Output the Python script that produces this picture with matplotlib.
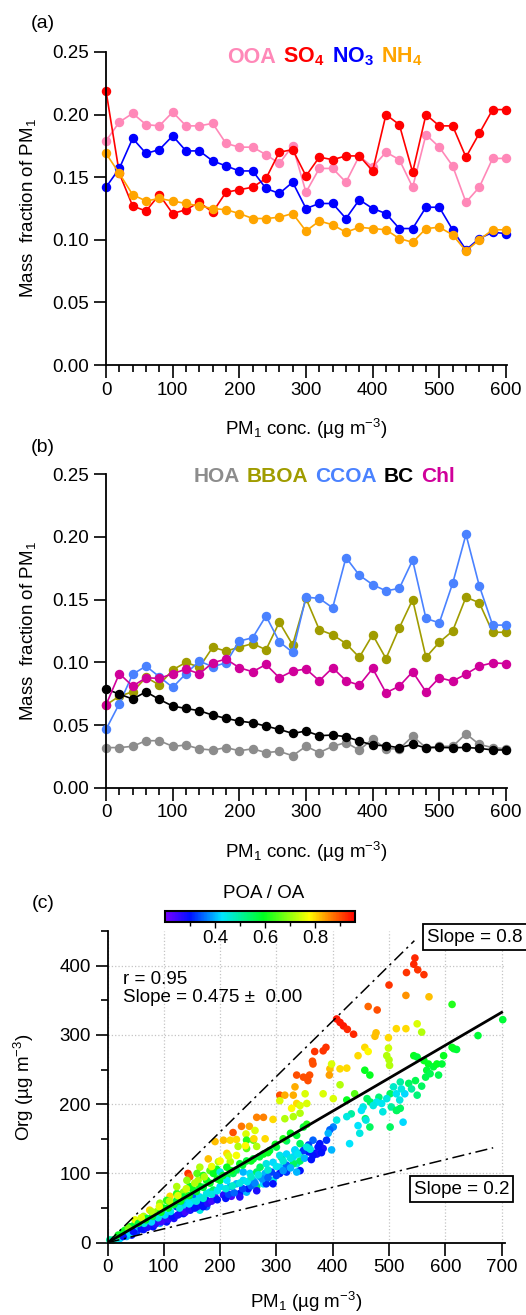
import numpy as np
import matplotlib.pyplot as plt
from matplotlib.offsetbox import TextArea, HPacker, AnchoredOffsetbox
from matplotlib.ticker import MultipleLocator
from matplotlib.colors import LinearSegmentedColormap

plt.rcParams['font.family'] = ['Liberation Sans', 'DejaVu Sans']
plt.rcParams['mathtext.fontset'] = 'custom'
plt.rcParams['mathtext.rm'] = 'Liberation Sans'
plt.rcParams['mathtext.it'] = 'Liberation Sans:italic'
plt.rcParams['mathtext.bf'] = 'Liberation Sans:bold'

# PM1 concentration bins (ug m-3)
conc = [0, 20, 40, 60, 80, 100, 120, 140, 160, 180, 200, 220, 240, 260, 280, 300,
        320, 340, 360, 380, 400, 420, 440, 460, 480, 500, 520, 540, 560, 580, 600]

# (a) secondary species mass fractions
ooa = [0.179, 0.194, 0.201, 0.192, 0.191, 0.202, 0.191, 0.191, 0.193, 0.177, 0.174,
       0.174, 0.168, 0.161, 0.175, 0.138, 0.157, 0.157, 0.146, 0.167, 0.158, 0.170,
       0.164, 0.142, 0.184, 0.174, 0.159, 0.130, 0.142, 0.165, 0.165]
so4 = [0.219, 0.153, 0.127, 0.123, 0.136, 0.121, 0.124, 0.130, 0.122, 0.138, 0.140,
       0.142, 0.149, 0.170, 0.172, 0.151, 0.166, 0.164, 0.167, 0.167, 0.155, 0.200,
       0.192, 0.154, 0.200, 0.191, 0.191, 0.166, 0.185, 0.204, 0.204]
no3 = [0.142, 0.157, 0.181, 0.169, 0.172, 0.183, 0.171, 0.171, 0.163, 0.159, 0.155,
       0.155, 0.141, 0.137, 0.146, 0.125, 0.129, 0.129, 0.117, 0.132, 0.125, 0.121,
       0.109, 0.109, 0.126, 0.126, 0.108, 0.092, 0.101, 0.106, 0.105]
nh4 = [0.169, 0.153, 0.136, 0.131, 0.133, 0.131, 0.129, 0.127, 0.125, 0.124, 0.121,
       0.117, 0.117, 0.118, 0.121, 0.107, 0.115, 0.112, 0.106, 0.110, 0.109, 0.108,
       0.101, 0.098, 0.109, 0.110, 0.104, 0.091, 0.100, 0.108, 0.108]

# (b) primary species mass fractions
hoa = [0.032, 0.032, 0.033, 0.0375, 0.0375, 0.033, 0.034, 0.031, 0.030, 0.032, 0.0295,
       0.031, 0.028, 0.029, 0.0255, 0.033, 0.028, 0.033, 0.036, 0.030, 0.039, 0.031,
       0.031, 0.041, 0.032, 0.033, 0.033, 0.043, 0.0345, 0.032, 0.031]
bboa = [0.066, 0.073, 0.0765, 0.088, 0.082, 0.094, 0.100, 0.096, 0.112, 0.109, 0.112,
        0.115, 0.110, 0.132, 0.114, 0.151, 0.126, 0.122, 0.115, 0.104, 0.122, 0.103,
        0.1275, 0.150, 0.104, 0.116, 0.125, 0.152, 0.1475, 0.124, 0.124]
ccoa = [0.0465, 0.067, 0.0905, 0.097, 0.0885, 0.080, 0.091, 0.101, 0.0965, 0.0996, 0.117,
        0.1196, 0.137, 0.1164, 0.108, 0.152, 0.151, 0.1435, 0.1836, 0.1695, 0.162, 0.157,
        0.159, 0.1815, 0.135, 0.1315, 0.163, 0.202, 0.161, 0.1297, 0.1297]
bc = [0.0787, 0.0747, 0.0707, 0.0765, 0.0704, 0.0651, 0.0632, 0.0614, 0.0579, 0.0553,
      0.0531, 0.0518, 0.0491, 0.0465, 0.0433, 0.0452, 0.0415, 0.042, 0.0407, 0.0372,
      0.034, 0.0335, 0.0319, 0.0345, 0.0319, 0.0321, 0.0319, 0.0321, 0.0314, 0.0301, 0.0301]
chl = [0.066, 0.091, 0.081, 0.0877, 0.0872, 0.0909, 0.0946, 0.0909, 0.0996, 0.1026,
       0.0957, 0.0925, 0.0983, 0.0877, 0.093, 0.0947, 0.0853, 0.0957, 0.0853, 0.0818,
       0.0951, 0.0757, 0.081, 0.0925, 0.0765, 0.0877, 0.085, 0.0906, 0.097, 0.0996, 0.099]

# (c) PM1 vs Org scatter, coloured by POA/OA
pm1 = [546, 544, 551, 531, 562, 500, 530, 571, 612, 463, 479, 407, 413, 419, 426, 437,
       513, 530, 550, 558, 477, 475, 457, 463, 445, 499, 499, 496, 500, 501, 388, 383,
       368, 364, 365, 395, 398, 394, 413, 425, 457, 466, 359, 348, 336, 356, 333, 330,
       383, 401, 413, 351, 354, 336, 342, 327, 439, 425, 544, 550, 562, 570, 579, 585,
       594, 597, 615, 620, 612, 567, 573, 588, 565, 547, 535, 520, 508, 502, 482, 467,
       461, 658, 702, 528, 522, 513, 496, 487, 478, 472, 454, 451, 433, 550, 520, 514,
       466, 458, 448, 430, 425, 407, 401, 395, 392, 389, 377, 383, 374, 368, 365, 357,
       351, 342, 333, 330, 336, 398, 445, 459, 489, 504, 519, 513, 540, 558, 502, 525,
       372, 357, 365,
       143, 146, 111, 75, 179, 191, 206, 223, 238, 252, 265, 277, 306, 315, 306, 342,
       330, 315, 294, 280, 262, 246, 229, 218, 232, 247, 259, 212, 197, 218, 229, 247,
       265, 164, 182, 161, 146, 135, 123, 105, 93, 64, 52, 40, 28,
       194, 212, 235, 247, 259, 277, 288, 300, 318, 336, 348, 354, 309, 330, 342,
       140, 152, 164, 176, 191, 206, 220, 235, 247, 182, 200, 218, 229, 241, 259, 265,
       271, 280, 291, 306, 318, 342, 294, 277, 135, 123, 129, 111, 105, 93, 81, 75,
       64, 52, 43, 34, 22, 10, 152, 164, 176,
       47, 59, 70, 82, 88, 100, 111, 123, 88, 100, 118, 135, 147, 159, 170, 141, 152,
       164, 176, 188, 200, 212, 223, 229, 164, 176, 152, 135, 123, 141, 159, 170, 188,
       200, 212, 241, 253, 265, 271, 282, 294, 306, 318, 333, 348, 342, 354, 235, 250,
       265, 282, 294, 306, 318, 336, 4, 16, 19, 28, 31, 37, 40, 46, 55, 64, 72, 60, 49,
       # dense band below 300 ug m-3
       60, 70, 85, 95, 108, 115, 125, 138, 145, 155, 168, 178, 185, 195, 210, 215, 225,
       240, 255, 262, 275, 285, 300, 312, 325, 350, 362, 380,
       65, 78, 90, 102, 112, 128, 145, 158, 170, 185, 195, 210, 222, 235, 248, 255, 268,
       285, 300, 312, 325, 338, 360,
       55, 68, 80, 95, 108, 118, 130, 145, 158, 170, 182, 195, 205, 220, 240, 255, 270,
       285, 298, 312, 325,
       60, 78, 92, 110, 125, 140, 155, 172, 185, 200, 215, 245, 260]
org = [411, 402, 394, 390, 387, 372, 357, 355, 344, 341, 336, 323, 318, 313, 308, 301,
       309, 309, 316, 304, 303, 298, 282, 276, 270, 296, 281, 270, 264, 256, 282, 277,
       276, 262, 258, 251, 258, 242, 251, 252, 249, 242, 242, 239, 242, 234, 225, 213,
       215, 208, 228, 215, 201, 201, 187, 194, 215, 206, 270, 268, 263, 258, 254, 258,
       258, 270, 280, 279, 282, 249, 244, 242, 239, 234, 230, 232, 225, 215, 210, 203,
       208, 299, 322, 215, 222, 215, 208, 201, 203, 198, 196, 191, 186, 213, 194, 191,
       167, 179, 158, 143, 182, 177, 167, 163, 158, 148, 143, 136, 138, 129, 148, 141,
       136, 129, 134, 124, 114, 134, 169, 177, 189, 196, 206, 191, 222, 226, 167, 174,
       128, 131, 126,
       100, 95, 67, 47, 121, 146, 148, 159, 168, 168, 181, 181, 213, 213, 205, 198,
       182, 179, 178, 150, 162, 157, 149, 148, 139, 148, 148, 129, 117, 117, 126, 136,
       139, 109, 104, 90, 81, 73, 71, 61, 57, 38, 30, 23, 16,
       106, 109, 114, 118, 121, 128, 133, 138, 147, 155, 167, 171, 123, 114, 118,
       61, 66, 57, 61, 66, 69, 67, 71, 73, 73, 81, 81, 85, 90, 90, 81,
       95, 100, 102, 109, 112, 104, 90, 85, 54, 52, 42, 38, 30, 28, 23, 33,
       19, 16, 11, 9, 6, 4, 52, 47, 52,
       25, 30, 35, 40, 45, 50, 57, 61, 30, 33, 35, 42, 47, 52, 52, 52, 59,
       66, 71, 76, 90, 95, 100, 105, 81, 90, 76, 66, 81, 90, 100, 97, 100,
       102, 90, 102, 100, 102, 109, 114, 116, 126, 128, 133, 133, 143, 138, 66, 78,
       75, 85, 85, 100, 102, 102, 4, 6, 11, 9, 18, 21, 13, 16, 23, 26, 23, 30, 33,
       20, 22, 27, 30, 34, 38, 40, 44, 48, 50, 55, 57, 60, 62, 64, 70, 72,
       78, 82, 86, 92, 94, 97, 104, 108, 122, 120, 130,
       28, 30, 36, 40, 45, 50, 56, 60, 64, 70, 75, 78, 82, 86, 88, 95, 98,
       105, 110, 118, 122, 128, 135,
       28, 33, 38, 44, 50, 55, 60, 68, 74, 80, 86, 92, 97, 104, 112, 118, 124,
       130, 142, 150, 158,
       36, 45, 52, 60, 68, 78, 86, 95, 110, 118, 125, 140, 150]
poa_oa = [.93, .93, .92, .92, .92, .92, .85, .82, .62, .88, .90, .94, .94, .94, .93, .93,
          .80, .80, .75, .72, .82, .82, .80, .78, .80, .80, .74, .72, .72, .72, .92, .92,
          .92, .90, .90, .82, .75, .84, .80, .80, .60, .60, .90, .90, .90, .90, .83, .83,
          .75, .75, .72, .75, .75, .80, .72, .78, .66, .60, .60, .58, .60, .60, .58, .60,
          .58, .60, .58, .58, .60, .58, .56, .56, .56, .56, .55, .50, .47, .55, .53, .55,
          .55, .58, .58, .42, .45, .44, .45, .44, .44, .45, .45, .43, .50, .53, .55, .55,
          .55, .55, .45, .43, .45, .45, .37, .35, .40, .32, .30, .28, .30, .30, .35, .33,
          .40, .50, .42, .42, .45, .40, .43, .45, .45, .50, .45, .55, .50, .55, .55, .42,
          .28, .30, .30,
          .92, .88, .80, .80, .82, .82, .82, .90, .87, .83, .86, .86, .90, .83, .75, .75,
          .72, .72, .80, .80, .75, .75, .80, .80, .72, .62, .66, .80, .72, .72, .77, .66,
          .72, .72, .66, .72, .60, .70, .62, .62, .70, .72, .62, .60, .60,
          .60, .60, .60, .58, .58, .60, .58, .56, .55, .58, .58, .62, .55, .55, .55,
          .45, .35, .30, .30, .25, .27, .24, .30, .40, .42, .42, .40, .40, .42, .40, .55,
          .40, .40, .33, .42, .35, .30, .45, .43, .40, .30, .28, .30, .30, .40, .30, .45,
          .30, .32, .30, .40, .42, .55, .42, .45, .35,
          .58, .45, .56, .60, .70, .60, .58, .58, .30, .27, .28, .30, .30, .28, .30, .42, .45,
          .42, .45, .55, .58, .56, .55, .55, .60, .60, .60, .58, .72, .70, .66, .62, .60,
          .45, .43, .40, .42, .55, .55, .45, .42, .45, .42, .42, .32, .55, .45, .27, .30,
          .28, .32, .30, .30, .32, .40, .50, .45, .60, .30, .60, .68, .42, .30, .40, .42, .30, .58, .76,
          .30, .28, .27, .25, .26, .30, .28, .25, .27, .30, .30, .27, .25, .30, .30, .33, .35,
          .33, .35, .37, .38, .35, .33, .38, .40, .40, .30, .30,
          .45, .42, .45, .42, .44, .45, .43, .45, .46, .45, .44, .45, .47, .45, .44, .47, .45,
          .46, .44, .46, .45, .44, .45,
          .58, .60, .58, .60, .60, .58, .60, .60, .58, .58, .60, .60, .58, .60, .58, .60, .58,
          .60, .60, .62, .60,
          .75, .72, .76, .72, .75, .74, .72, .72, .76, .78, .75, .78, .80]

fit_slope = 0.475

# Igor-like reversed rainbow: violet -> blue -> cyan -> green -> yellow -> red
igor_rainbow = LinearSegmentedColormap.from_list(
    'igor_rainbow',
    [(0.0, '#7A00FF'), (0.13, '#0010FF'), (0.3, '#00E5FF'), (0.52, '#00FF20'),
     (0.76, '#FFFF00'), (0.86, '#FF8C00'), (1.0, '#FF0000')])

W, H = 526, 1315
FS = 13.5
fig = plt.figure(figsize=(W / 100, H / 100), dpi=100)


def style_axis(ax):
    for s in ['top', 'right']:
        ax.spines[s].set_visible(False)
    for s in ['left', 'bottom']:
        ax.spines[s].set_linewidth(1.3)
    ax.tick_params(which='major', direction='out', length=9, width=1.2,
                   labelsize=FS, pad=3)
    ax.tick_params(which='minor', direction='out', length=5, width=1.2)


def frac_panel(ax, series, colors):
    for vals, col in zip(series, colors):
        ax.plot(conc, vals, '-o', color=col, lw=1.2, ms=5.8, mec=col, clip_on=False)
    ax.set_xlim(0, 602)
    ax.set_ylim(0, 0.25)
    ax.xaxis.set_major_locator(MultipleLocator(100))
    ax.xaxis.set_minor_locator(MultipleLocator(20))
    ax.yaxis.set_major_locator(MultipleLocator(0.05))
    ax.yaxis.set_major_formatter(plt.FormatStrFormatter('%.2f'))
    style_axis(ax)
    ax.set_ylabel('Mass  fraction of PM$_1$', fontsize=FS)
    ax.yaxis.set_label_coords(-0.17, 0.5)
    ax.set_xlabel('PM$_1$ conc. (\u00b5g m$^{-3}$)', fontsize=FS)
    ax.xaxis.set_label_coords(0.5, -0.165)


def color_legend(words, colors, xy, size):
    boxes = [TextArea(w, textprops=dict(color=c, fontweight='bold', fontsize=size))
             for w, c in zip(words, colors)]
    pack = HPacker(children=boxes, align='baseline', pad=0, sep=5)
    ab = AnchoredOffsetbox(loc='center', child=pack, pad=0, borderpad=0, frameon=False,
                           bbox_to_anchor=(xy[0] / W, 1 - xy[1] / H),
                           bbox_transform=fig.transFigure)
    fig.add_artist(ab)


# panel a
ax_a = fig.add_axes([106 / W, 1 - 365 / H, 401.3 / W, 313 / H])
cols_a = ['#FF88B8', '#FF0000', '#0000FF', '#FFA500']
frac_panel(ax_a, [ooa, so4, no3, nh4], cols_a)
color_legend(['OOA', 'SO$_\\mathbf{4}$', 'NO$_\\mathbf{3}$', 'NH$_\\mathbf{4}$'], cols_a,
             (325, 57), 15.5)

# panel b
ax_b = fig.add_axes([106 / W, 1 - 787.7 / H, 401.3 / W, 313.4 / H])
cols_b = ['#8C8C8C', '#A09C00', '#4A82FF', '#000000', '#D0009A']
frac_panel(ax_b, [hoa, bboa, ccoa, bc, chl], cols_b)
color_legend(['HOA', 'BBOA', 'CCOA', 'BC', 'Chl'], cols_b, (324, 476), 15)

# panel c
ax_c = fig.add_axes([107.5 / W, 1 - 1242.7 / H, 397.5 / W, 311.7 / H])
sc = ax_c.scatter(pm1, org, c=poa_oa, cmap=igor_rainbow, vmin=0.2, vmax=0.96,
                  s=30, edgecolors='none', clip_on=False, zorder=2)
ax_c.plot([0, 700], [0, fit_slope * 700], color='black', lw=2, zorder=3)
ax_c.plot([0, 545], [0, 0.8 * 545], color='black', lw=1.1,
          dashes=(8, 3, 1.5, 3), zorder=3)
ax_c.plot([0, 685], [0, 0.2 * 685], color='black', lw=1.1,
          dashes=(8, 3, 1.5, 3), zorder=3)
ax_c.set_xlim(0, 706)
ax_c.set_ylim(0, 450)
ax_c.xaxis.set_major_locator(MultipleLocator(100))
ax_c.yaxis.set_major_locator(MultipleLocator(100))
ax_c.yaxis.set_minor_locator(MultipleLocator(50))
style_axis(ax_c)
ax_c.grid(True, which='major', ls=':', color='#c4c4c4', lw=0.9, zorder=0)
ax_c.set_axisbelow(True)
ax_c.set_ylabel('Org (\u00b5g m$^{-3}$)', fontsize=FS)
ax_c.yaxis.set_label_coords(-0.18, 0.5)
ax_c.set_xlabel('PM$_1$ (\u00b5g m$^{-3}$)', fontsize=FS)
ax_c.xaxis.set_label_coords(0.5, -0.15)

cax = fig.add_axes([165 / W, 1 - 922 / H, 190 / W, 11 / H])
cb = fig.colorbar(sc, cax=cax, orientation='horizontal')
cb.set_ticks([0.4, 0.6, 0.8])
cb.ax.xaxis.set_minor_locator(plt.FixedLocator([0.3, 0.5, 0.7, 0.9]))
cb.ax.tick_params(which='major', length=4, width=1, labelsize=FS, pad=2)
cb.ax.tick_params(which='minor', length=3, width=1)
cb.outline.set_linewidth(1.5)
fig.text(264 / W, 1 - 893 / H, 'POA / OA', ha='center', va='center', fontsize=FS)

fig.text(123 / W, 1 - 979 / H, 'r = 0.95', ha='left', va='center', fontsize=FS)
fig.text(123 / W, 1 - 998 / H, 'Slope = 0.475 \u00b1  0.00', ha='left', va='center',
         fontsize=FS)
box = dict(boxstyle='square,pad=0.22', fc='white', ec='black', lw=1.3)
fig.text(475 / W, 1 - 937 / H, 'Slope = 0.8', ha='center', va='center',
         fontsize=FS, bbox=box)
fig.text(461.5 / W, 1 - 1189 / H, 'Slope = 0.2', ha='center', va='center',
         fontsize=FS, bbox=box)

# panel tags
for tag, y in [('(a)', 24), ('(b)', 447), ('(c)', 903)]:
    fig.text(43 / W, 1 - y / H, tag, ha='center', va='center', fontsize=FS + 0.5)

fig.savefig('out.png', dpi=100)
